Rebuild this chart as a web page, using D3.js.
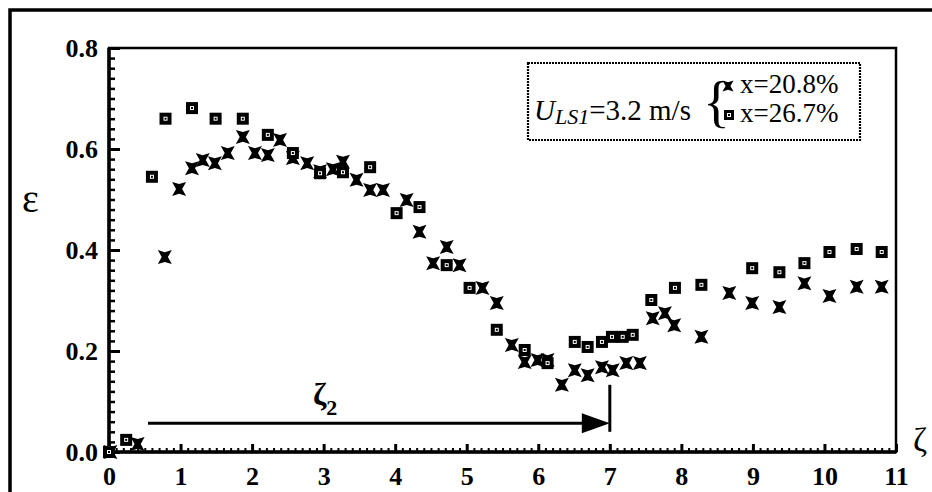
<!DOCTYPE html>
<html lang="en">
<head>
<meta charset="utf-8">
<title>Void fraction vs zeta</title>
<script src="https://d3js.org/d3.v7.min.js"></script>
<style>
body { margin: 0; background: #fff; }
.serif { font-family: "Liberation Serif", "Times New Roman", serif; }
svg .tick text { font-family: "Liberation Serif", "Times New Roman", serif; font-weight: bold; font-size: 26px; }
</style>
</head>
<body>
<div id="chart"></div>
<script>
var width = 932, height = 492;

// x = 20.8 % (bow-tie markers)
var zetaA = [0.02, 0.40, 0.78, 0.98, 1.16, 1.31, 1.48, 1.66, 1.87, 2.04, 2.22, 2.39, 2.57, 2.77, 2.95, 3.13, 3.27, 3.46, 3.65, 3.83,
             4.16, 4.34, 4.53, 4.72, 4.90, 5.22, 5.42, 5.63, 5.81, 5.99, 6.13, 6.33, 6.51, 6.69, 6.89, 7.04, 7.23, 7.42,
             7.60, 7.77, 7.90, 8.28, 8.67, 8.99, 9.37, 9.72, 10.07, 10.45, 10.80];
var epsA  = [0.0, 0.016, 0.386, 0.521, 0.562, 0.578, 0.572, 0.592, 0.624, 0.592, 0.588, 0.618, 0.582, 0.572, 0.556, 0.560, 0.575, 0.539, 0.519, 0.519,
             0.499, 0.436, 0.374, 0.406, 0.370, 0.325, 0.295, 0.212, 0.178, 0.182, 0.182, 0.133, 0.162, 0.152, 0.168, 0.162, 0.176, 0.176,
             0.265, 0.275, 0.251, 0.228, 0.315, 0.295, 0.287, 0.334, 0.309, 0.327, 0.327];

// x = 26.7 % (square markers)
var zetaB = [0.0, 0.24, 0.60, 0.79, 1.16, 1.49, 1.87, 2.22, 2.57, 2.95, 3.27, 3.65, 4.02, 4.34, 4.72, 5.04, 5.42, 5.81, 6.13,
             6.51, 6.69, 6.89, 7.03, 7.18, 7.32, 7.58, 7.91, 8.28, 8.99, 9.37, 9.72, 10.07, 10.45, 10.80];
var epsB  = [0.0, 0.024, 0.545, 0.660, 0.681, 0.660, 0.660, 0.628, 0.592, 0.552, 0.554, 0.564, 0.473, 0.485, 0.370, 0.325, 0.242, 0.202, 0.176,
             0.218, 0.208, 0.218, 0.228, 0.228, 0.232, 0.301, 0.325, 0.331, 0.364, 0.356, 0.374, 0.396, 0.402, 0.396];

var xTicks = [0, 1, 2, 3, 4, 5, 6, 7, 8, 9, 10, 11];
var yTicks = [0.0, 0.2, 0.4, 0.6, 0.8];
var legendLabels = ["x=20.8%", "x=26.7%"];

// zeta_2 arrow
var arrowZeta = [0.545, 7.0];
var arrowEps = 0.057;
var markEps = [0.04, 0.133];

var x = d3.scaleLinear().domain([0, 11]).range([109, 896]);
var y = d3.scaleLinear().domain([0, 0.8]).range([452, 48]);

var svg = d3.select("#chart").append("svg")
    .attr("width", width)
    .attr("height", height);

// outer frame (cropped at right and bottom)
svg.append("rect")
    .attr("x", 10).attr("y", 10)
    .attr("width", 960).attr("height", 540)
    .attr("fill", "none").attr("stroke", "#000").attr("stroke-width", 3.5);

// minor ticks
var xMinor = d3.range(0, 111).map(function(i) { return i / 10; }).filter(function(v) { return Math.abs(v - Math.round(v)) > 1e-6; });
var yMinor = d3.range(0, 41).map(function(i) { return i / 50; }).filter(function(v) { return Math.abs(v * 5 - Math.round(v * 5)) > 1e-6; });

svg.append("g")
    .attr("transform", "translate(0," + y(0) + ")")
    .call(d3.axisBottom(x).tickValues(xMinor).tickSize(-4).tickFormat(""))
    .call(function(g) { g.select(".domain").remove(); g.selectAll("line").attr("stroke-width", 2); });

svg.append("g")
    .attr("transform", "translate(" + x(0) + ",0)")
    .call(d3.axisLeft(y).tickValues(yMinor).tickSize(-6).tickFormat(""))
    .call(function(g) { g.select(".domain").remove(); g.selectAll("line").attr("stroke-width", 2.5); });

// major ticks + labels
function styleLabels(g) {
    g.select(".domain").remove();
    g.selectAll("line").attr("stroke-width", 3);
}

svg.append("g")
    .attr("transform", "translate(0," + y(0) + ")")
    .call(d3.axisBottom(x).tickValues(xTicks).tickSize(-8).tickPadding(15).tickFormat(d3.format("d")))
    .call(styleLabels);

svg.append("g")
    .attr("transform", "translate(" + x(0) + ",0)")
    .call(d3.axisLeft(y).tickValues(yTicks).tickSize(-11).tickPadding(11).tickFormat(d3.format(".1f")))
    .call(styleLabels);

// plot frame
svg.append("rect")
    .attr("x", x(0)).attr("y", y(0.8))
    .attr("width", x(11) - x(0)).attr("height", y(0) - y(0.8))
    .attr("fill", "none").attr("stroke", "#000").attr("stroke-width", 2.5);
svg.append("path")
    .attr("d", "M" + x(0) + "," + y(0.8) + "V" + y(0) + "H" + x(11))
    .attr("fill", "none").attr("stroke", "#000").attr("stroke-width", 3.5);

// axis titles
svg.append("text").attr("class", "serif")
    .attr("x", 22).attr("y", 212)
    .attr("font-size", 40)
    .text("ε");
svg.append("text").attr("class", "serif")
    .attr("x", 913).attr("y", 451)
    .attr("font-size", 34)
    .text("ζ");

// markers
function bowtie(s) {
    var h = s / 2, ns = s * 0.28, nv = s * 0.15;
    return "M" + (-h) + "," + (-h) + "L0," + (-h + nv) + "L" + h + "," + (-h) + "L" + (h - ns) + ",0L" + h + "," + h +
        "L0," + (h - nv) + "L" + (-h) + "," + h + "L" + (-h + ns) + ",0Z";
}

function drawSquare(g, cx, cy, s) {
    g.append("rect")
        .attr("x", cx - s / 2).attr("y", cy - s / 2)
        .attr("width", s).attr("height", s)
        .attr("fill", "#000");
    g.append("rect")
        .attr("x", cx - 1.5).attr("y", cy - 1.5)
        .attr("width", 3).attr("height", 3)
        .attr("fill", "none").attr("stroke", "#fff").attr("stroke-width", 1);
}

var gA = svg.append("g");
gA.selectAll("path")
    .data(zetaA.map(function(z, i) { return [z, epsA[i]]; }))
    .enter().append("path")
    .attr("transform", function(d) { return "translate(" + x(d[0]) + "," + y(d[1]) + ")"; })
    .attr("d", bowtie(14))
    .attr("fill", "#000");

var gB = svg.append("g");
zetaB.forEach(function(z, i) { drawSquare(gB, x(z), y(epsB[i]), 12); });

// zeta_2 arrow
svg.append("line")
    .attr("x1", x(arrowZeta[0])).attr("x2", x(arrowZeta[1]) - 20)
    .attr("y1", y(arrowEps)).attr("y2", y(arrowEps))
    .attr("stroke", "#000").attr("stroke-width", 3);
svg.append("path")
    .attr("d", "M" + (x(arrowZeta[1]) - 28) + "," + (y(arrowEps) - 10) + "L" + x(arrowZeta[1]) + "," + y(arrowEps) +
        "L" + (x(arrowZeta[1]) - 28) + "," + (y(arrowEps) + 10) + "Z")
    .attr("fill", "#000");
svg.append("line")
    .attr("x1", x(arrowZeta[1])).attr("x2", x(arrowZeta[1]))
    .attr("y1", y(markEps[1])).attr("y2", y(markEps[0]))
    .attr("stroke", "#000").attr("stroke-width", 3);

var z2 = svg.append("text").attr("class", "serif")
    .attr("x", 313).attr("y", 405)
    .attr("font-size", 32).attr("font-weight", "bold");
z2.append("tspan").text("ζ");
z2.append("tspan").attr("font-size", 22).attr("dy", 10).text("2");

// legend
svg.append("rect")
    .attr("x", 528).attr("y", 63)
    .attr("width", 332).attr("height", 77)
    .attr("fill", "#fff").attr("stroke", "#000").attr("stroke-width", 2.2)
    .attr("stroke-dasharray", "2,1");

var u = svg.append("text").attr("class", "serif")
    .attr("x", 534).attr("y", 120)
    .attr("font-size", 29);
u.append("tspan").attr("font-style", "italic").text("U");
u.append("tspan").attr("font-style", "italic").attr("font-size", 22).attr("dy", 4).text("LS1");
u.append("tspan").attr("dy", -4).text("=3.2 m/s");

svg.append("text").attr("class", "serif")
    .attr("x", 703).attr("y", 121)
    .attr("font-size", 56)
    .text("{");

var legendY = [86, 115];
svg.append("path")
    .attr("transform", "translate(728," + legendY[0] + ")")
    .attr("d", bowtie(11))
    .attr("fill", "#000");
drawSquare(svg, 729, legendY[1], 10);

svg.selectAll(".legend-label")
    .data(legendLabels)
    .enter().append("text")
    .attr("class", "serif legend-label")
    .attr("x", 740)
    .attr("y", function(d, i) { return legendY[i] + 7; })
    .attr("font-size", 27)
    .text(function(d) { return d; });
</script>
</body>
</html>
